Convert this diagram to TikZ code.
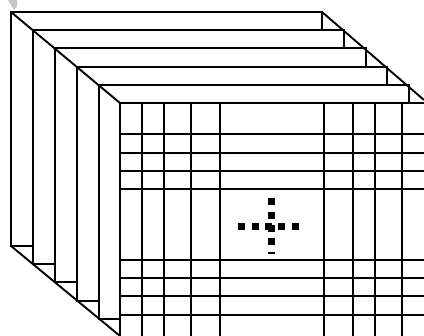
\documentclass[tikz,border=0pt]{standalone}
\tikzset{
  frame line/.style={black,line width=1.9pt,line cap=rect},
  grid line/.style={black,line width=1.9pt},
  dot/.style={fill=black,draw=none},
}
\begin{document}
\begin{tikzpicture}[x=1pt,y=-1pt]
\useasboundingbox (0,0) rectangle (424,336);
\fill[white] (0,0) rectangle (424,336);
% smudge
\fill[black!22] (8,0) -- (17,0) -- (17,7) -- (14,10) -- (11.5,6) -- cycle;
% back frames: top edges
\draw[frame line] (11,12) -- (322,12);
\draw[frame line] (33,30) -- (344,30);
\draw[frame line] (55,48) -- (366,48);
\draw[frame line] (77,67) -- (387,67);
\draw[frame line] (99,85) -- (409,85);
% left verticals
\draw[frame line] (11,12) -- (11,246);
\draw[frame line] (33,30) -- (33,264);
\draw[frame line] (55,48) -- (55,282);
\draw[frame line] (77,67) -- (77,301);
\draw[frame line] (99,85) -- (99,319);
% bottom stubs
\draw[frame line] (11,246) -- (33,246);
\draw[frame line] (33,264) -- (55,264);
\draw[frame line] (55,282) -- (77,282);
\draw[frame line] (77,301) -- (99,301);
\draw[frame line] (99,319) -- (120,319);
% right stubs
\draw[frame line] (322,12) -- (322,30);
\draw[frame line] (344,30) -- (344,48);
\draw[frame line] (366,48) -- (366,67);
\draw[frame line] (387,67) -- (387,85);
\draw[frame line] (409,85) -- (409,103);
% diagonals
\draw[grid line] (11,12) -- (120,103);
\draw[grid line] (11,246) -- (120,336);
\draw[grid line] (322,12) -- (424,100);
% front grid
\foreach \x in {120,142,164,191,220,324,353,375,402}
  \draw[grid line] (\x,103) -- (\x,336);
\foreach \y in {103,134,153,171,189,260,278,296,315}
  \draw[grid line] (120,\y) -- (424,\y);
% dots
\foreach \x in {241.5,255,268.5,281.5,295}
  \fill[dot] (\x-3.5,226.3-3.5) rectangle (\x+3.5,226.3+3.5);
\foreach \y in {202,215.5,228.7,242}
  \fill[dot] (271-3.5,\y-3.5) rectangle (271+3.5,\y+3.5);
\fill[dot] (267.5,252.2) rectangle (274.5,253.8);
\end{tikzpicture}
\end{document}
